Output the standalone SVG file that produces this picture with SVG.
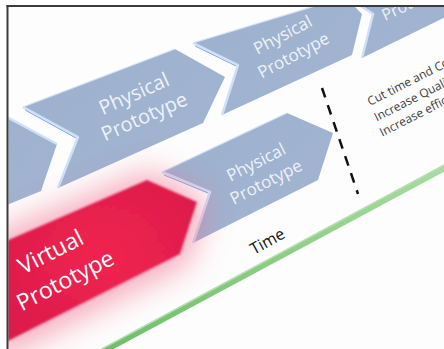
<svg xmlns="http://www.w3.org/2000/svg" width="444" height="349" viewBox="0 0 444 349">
<defs>
<style>
.chev{fill:url(#blue);}
.bevel{fill:none;stroke:#cfe0f7;stroke-width:2.5;stroke-linejoin:round;}
.bevel2{fill:none;stroke:#7ea6e0;stroke-width:1;stroke-linejoin:round;}
.lbl{font-family:"Open Sans","Noto Sans",sans-serif;fill:#eef2f9;text-anchor:middle;}
.note{font-family:"Open Sans","Noto Sans",sans-serif;fill:#3a3a3a;font-size:12px;}
</style>
<linearGradient id="blue" x1="0" y1="0" x2="1" y2="1">
<stop offset="0" stop-color="#9db1ce"/>
<stop offset="1" stop-color="#a2b4d0"/>
</linearGradient>
<radialGradient id="red" cx="0.55" cy="0.45" r="0.7">
<stop offset="0" stop-color="#f0214f"/>
<stop offset="1" stop-color="#d81e4b"/>
</radialGradient>
<linearGradient id="green" x1="0" y1="0" x2="0" y2="1">
<stop offset="0" stop-color="#a9dca2"/>
<stop offset="1" stop-color="#6fbd6a"/>
</linearGradient>
<filter id="glow" x="-50%" y="-50%" width="200%" height="200%">
<feGaussianBlur stdDeviation="16"/>
</filter>
<filter id="soft" x="-5%" y="-5%" width="110%" height="110%">
<feGaussianBlur stdDeviation="0.8"/>
</filter>
<clipPath id="frame"><rect x="8.5" y="7" width="436" height="342"/></clipPath>
</defs>
<rect x="0" y="0" width="444" height="349" fill="#ffffff"/>
<g clip-path="url(#frame)">
<rect x="8" y="7" width="436" height="342" fill="#fdfdfd"/>

<g id="node-A">
<polygon class="chev" points="-10,108 57,144 41,191 -10,212"/>
<polyline class="bevel" points="-10,108 57,144"/>
</g>

<g id="node-B">
<polygon class="chev" points="23,107 175,49 225,77 203,123 58,188 78,137"/>
<polyline class="bevel" points="23,107 78,137 58,188"/>
<polyline class="bevel2" points="25,110 76,138"/>
<polyline class="bevel" points="23,107 175,49" style="stroke-width:1.2"/>
<g transform="translate(139,105) rotate(-24)">
<text class="lbl" x="0" y="-5.5" font-size="20">Physical</text>
<text class="lbl" x="0" y="19.5" font-size="20">Prototype</text>
</g>
</g>

<g id="node-C">
<polygon class="chev" points="193,43 345,-3 362,14 352,55 222,115 238,65"/>
<polyline class="bevel" points="193,43 238,65 222,115"/>
<polyline class="bevel2" points="195,46 236,66"/>
<polyline class="bevel" points="193,43 345,-3" style="stroke-width:1.2"/>
<g transform="translate(288,45) rotate(-28)">
<text class="lbl" x="0" y="-5.5" font-size="17">Physical</text>
<text class="lbl" x="0" y="17.5" font-size="17">Prototype</text>
</g>
</g>

<g id="node-D">
<polygon class="chev" points="352,0 460,-40 460,10 362,58 373,14"/>
<polyline class="bevel" points="352,0 373,14 362,58"/>
<text class="lbl" x="0" y="0" font-size="16" style="text-anchor:start" transform="translate(385,21) rotate(-25)">Prototy</text>
</g>

<g id="node-E">
<polygon class="chev" points="162,172 287,113 333,133 318,180 193,243 210,192"/>
<polyline class="bevel" points="162,172 210,192 193,243"/>
<polyline class="bevel2" points="164,175 208,193"/>
<polyline class="bevel" points="162,172 287,113" style="stroke-width:1.2"/>
<g transform="translate(261,172) rotate(-27)">
<text class="lbl" x="0" y="-5" font-size="17">Physical</text>
<text class="lbl" x="0" y="17" font-size="17">Prototype</text>
</g>
</g>

<polygon points="-10,238 150,172 205,200 188,262 -10,362" fill="#f26a8c" opacity="0.6" filter="url(#glow)"/>

<g id="node-V">
<polygon points="-10,248 147,180 197,202 180,254 -10,350" fill="url(#red)" filter="url(#soft)"/>
<g transform="translate(58,266) rotate(-27)">
<text class="lbl" x="0" y="-8" font-size="23" style="fill:#ffffff">Virtual</text>
<text class="lbl" x="0" y="24" font-size="23" style="fill:#ffffff">Prototype</text>
</g>
</g>

<g id="lines">
<line x1="322" y1="88" x2="358" y2="194" stroke="#111111" stroke-width="2.5" stroke-dasharray="10 8"/>
<line x1="98" y1="354" x2="450" y2="165" stroke="url(#green)" stroke-width="6"/>
<line x1="98" y1="351" x2="450" y2="162" stroke="#b4e0ae" stroke-width="1.5"/>
</g>

<g id="time-label">
<text x="0" y="0" font-family="Open Sans, Noto Sans, sans-serif" font-size="16" fill="#111111" transform="translate(254,255) rotate(-29)">Time</text>
</g>

<g id="notes" transform="translate(370,106) rotate(-27)">
<text class="note" x="0" y="0">Cut time and Co</text>
<text class="note" x="-1" y="17">Increase Qualit</text>
<text class="note" x="-3" y="33">Increase effici</text>
</g>
</g>

<g id="frame-border" fill="none" stroke="#3c3c3c" stroke-width="2">
<line x1="7.5" y1="5" x2="7.5" y2="349"/>
<line x1="6.5" y1="6" x2="444" y2="6"/>
</g>
</svg>
